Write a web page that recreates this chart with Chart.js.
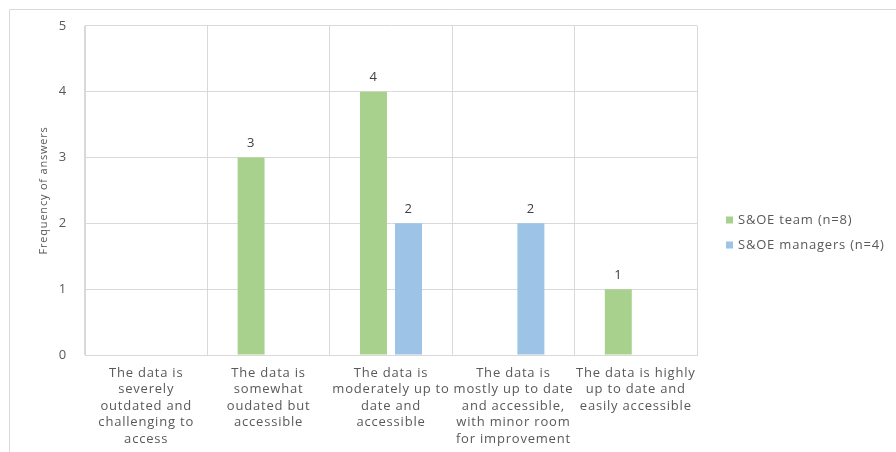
<!DOCTYPE html>
<html>
<head>
<meta charset="utf-8">
<script src="https://cdn.jsdelivr.net/npm/chart.js@4/dist/chart.umd.min.js"></script>
<style>
html,body{margin:0;padding:0;background:#fff;}
#wrap{width:896px;height:452px;position:relative;}
</style>
</head>
<body>
<div id="wrap"><canvas id="c" width="896" height="452"></canvas></div>
<script>
const categories = [
  ["The data is", "severely", "outdated and", "challenging to", "access"],
  ["The data is", "somewhat", "oudated but", "accessible"],
  ["The data is", "moderately up to", "date and", "accessible"],
  ["The data is", "mostly up to date", "and accessible,", "with minor room", "for improvement"],
  ["The data is highly", "up to date and", "easily accessible"]
];
const teamLabel = "S&OE team (n=8)";
const managersLabel = "S&OE managers (n=4)";
const teamValues = [0, 3, 4, 0, 1];
const managersValues = [0, 0, 2, 2, 0];
const yTicks = [0, 1, 2, 3, 4, 5];
const yTitle = "Frequency of answers";

const FONT = "'Open Sans', 'Liberation Sans', sans-serif";
const TXT = "#595959";
const SPACING = '0.8px';

const spacingPlugin = {
  id: 'spacing',
  beforeUpdate(chart) { chart.ctx.letterSpacing = SPACING; },
  beforeLayout(chart) { chart.ctx.letterSpacing = SPACING; },
  beforeDraw(chart) { chart.ctx.letterSpacing = SPACING; }
};

const framePlugin = {
  id: 'frame',
  beforeDraw(chart) {
    const ctx = chart.ctx;
    ctx.save();
    ctx.strokeStyle = '#d9d9d9';
    ctx.lineWidth = 1;
    ctx.beginPath();
    ctx.moveTo(9.5, 452);
    ctx.lineTo(9.5, 9.5);
    ctx.lineTo(896, 9.5);
    ctx.stroke();
    ctx.restore();
  }
};

const labelPlugin = {
  id: 'valueLabels',
  afterDatasetsDraw(chart) {
    const ctx = chart.ctx;
    ctx.save();
    ctx.font = "13px " + FONT;
    ctx.fillStyle = "#404040";
    ctx.textAlign = 'center';
    ctx.textBaseline = 'middle';
    chart.data.datasets.forEach((ds, i) => {
      const meta = chart.getDatasetMeta(i);
      meta.data.forEach((el, j) => {
        const v = ds.data[j];
        if (!v) return;
        ctx.fillText(String(v), el.x, el.y - 14);
      });
    });
    ctx.restore();
  }
};

const legendPlugin = {
  id: 'customLegend',
  afterDraw(chart) {
    const ctx = chart.ctx;
    ctx.save();
    ctx.font = "13px " + FONT;
    ctx.textBaseline = 'middle';
    ctx.textAlign = 'left';
    const x0 = 726, y0 = 220, dy = 25;
    chart.data.datasets.forEach((ds, i) => {
      const y = y0 + i * dy;
      ctx.fillStyle = ds.backgroundColor;
      ctx.fillRect(x0, y - 3.5, 7, 7);
      ctx.fillStyle = TXT;
      ctx.fillText(ds.label, x0 + 12, y);
    });
    ctx.restore();
  }
};

new Chart(document.getElementById('c'), {
  type: 'bar',
  data: {
    labels: categories,
    datasets: [
      { label: teamLabel, data: teamValues, backgroundColor: '#A9D18E', categoryPercentage: 0.572, barPercentage: 0.77 },
      { label: managersLabel, data: managersValues, backgroundColor: '#9DC3E6', categoryPercentage: 0.572, barPercentage: 0.77 }
    ]
  },
  options: {
    responsive: false,
    animation: false,
    devicePixelRatio: 1,
    layout: { padding: { left: 37, right: 199, top: 25, bottom: 0 } },
    plugins: {
      legend: { display: false },
      tooltip: { enabled: false }
    },
    scales: {
      x: {
        grid: { color: '#d9d9d9', drawTicks: false, offset: true },
        border: { color: '#d9d9d9' },
        ticks: {
          color: TXT,
          font: { family: FONT, size: 13, lineHeight: 1.27 },
          maxRotation: 0, minRotation: 0, autoSkip: false, padding: 10
        },
        afterFit(scale) { scale.height = 97; }
      },
      y: {
        min: 0, max: 5,
        afterBuildTicks(scale) { scale.ticks = yTicks.map(v => ({ value: v })); },
        grid: { color: '#d9d9d9', drawTicks: false },
        border: { color: '#d9d9d9' },
        ticks: { color: TXT, font: { family: FONT, size: 13 }, padding: 18 },
        title: { display: true, text: yTitle, color: TXT, font: { family: FONT, size: 11 }, padding: { top: 0, bottom: 0 } },
        afterFit(scale) { scale.width = 48; }
      }
    }
  },
  plugins: [spacingPlugin, framePlugin, labelPlugin, legendPlugin]
});
</script>
</body>
</html>
